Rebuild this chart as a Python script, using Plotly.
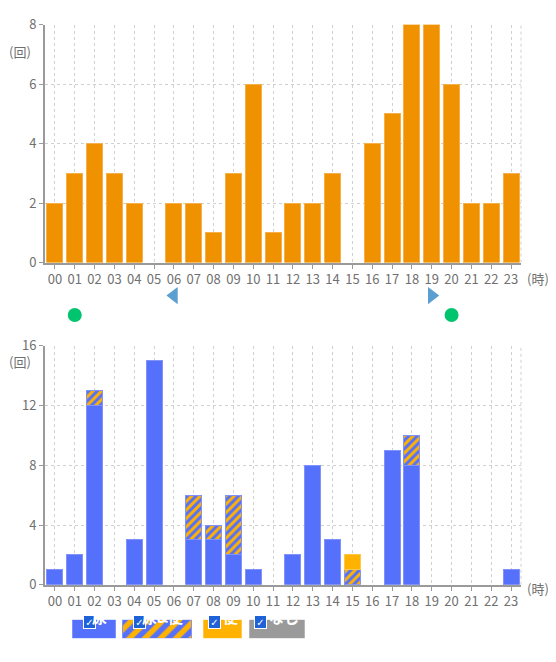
import plotly.graph_objs as go

# page body has an 8px margin, so the figure is drawn at (8, 8)
OX, OY = 8, 8
W, H = 540, 646

hours = ["00", "01", "02", "03", "04", "05", "06", "07", "08", "09", "10", "11",
         "12", "13", "14", "15", "16", "17", "18", "19", "20", "21", "22", "23"]

# top chart: counts per hour
counts_top = [2, 3, 4, 3, 2, 0, 2, 2, 1, 3, 6, 1, 2, 2, 3, 0, 4, 5, 8, 8, 6, 2, 2, 3]

# bottom chart: stacked by type
urine = [1, 2, 12, 0, 3, 15, 0, 3, 3, 2, 1, 0, 2, 8, 3, 0, 0, 9, 8, 0, 0, 0, 0, 1]
both = [0, 0, 1, 0, 0, 0, 0, 3, 1, 4, 0, 0, 0, 0, 0, 1, 0, 0, 2, 0, 0, 0, 0, 0]
stool = [0, 0, 0, 0, 0, 0, 0, 0, 0, 0, 0, 0, 0, 0, 0, 1, 0, 0, 0, 0, 0, 0, 0, 0]
none_ = [0] * 24

# markers under top chart
circle_hours = ["01", "20"]
tri_left_hours = ["06"]
tri_right_hours = ["19"]

legend_labels = ["尿", "尿&便", "便", "なし"]

ORANGE = "#F09100"
BLUE = "#5570FA"
YELLOW = "#FFB300"
GRAY = "#9A9A9A"
FONT = "Noto Sans CJK JP, Noto Sans, sans-serif"


def px_(x):
    return (x - OX) / W


def py(y):
    return 1 - (y - OY) / H


def edge(vals, color):
    # thin light outline, none on empty bars
    return dict(color=color, width=[1 if v else 0 for v in vals])


fig = go.Figure()

fig.add_trace(go.Bar(x=hours, y=counts_top, marker=dict(color=ORANGE, line=edge(counts_top, "#F6B04A")),
                     xaxis="x", yaxis="y", showlegend=False))

fig.add_trace(go.Bar(x=hours, y=urine, name="尿", marker=dict(color=BLUE, line=edge(urine, "#8193FB")),
                     xaxis="x2", yaxis="y2", showlegend=False))
fig.add_trace(go.Bar(x=hours, y=both, name="尿&便",
                     marker=dict(color=BLUE, line=edge(both, "#8193FB"),
                                 pattern=dict(shape="/", fgcolor=YELLOW, bgcolor=BLUE, size=6,
                                              solidity=0.5, fillmode="replace")),
                     xaxis="x2", yaxis="y2", showlegend=False))
fig.add_trace(go.Bar(x=hours, y=stool, name="便", marker=dict(color=YELLOW, line=edge(stool, "#FFC84D")),
                     xaxis="x2", yaxis="y2", showlegend=False))
fig.add_trace(go.Bar(x=hours, y=none_, name="なし", marker=dict(color=GRAY, line=edge(none_, "#B0B0B0")),
                     xaxis="x2", yaxis="y2", showlegend=False))

# markers row
fig.add_trace(go.Scatter(x=circle_hours, y=[0] * len(circle_hours), mode="markers",
                         marker=dict(symbol="circle", size=14, color="#00C46E"),
                         xaxis="x3", yaxis="y3", showlegend=False))
fig.add_trace(go.Scatter(x=tri_left_hours, y=[1] * len(tri_left_hours), mode="markers",
                         marker=dict(symbol="triangle-left", size=15, color="#5A9FD0"),
                         xaxis="x3", yaxis="y3", showlegend=False))
fig.add_trace(go.Scatter(x=tri_right_hours, y=[1] * len(tri_right_hours), mode="markers",
                         marker=dict(symbol="triangle-right", size=15, color="#5A9FD0"),
                         xaxis="x3", yaxis="y3", showlegend=False))

# custom legend boxes (page pixel positions)
box_left = [72, 122, 203, 249]
box_width = [43, 69, 38, 55]
box_colors = [BLUE, BLUE, YELLOW, GRAY]
box_edges = ["#8193FB", "#8193FB", "#FFC84D", "#B5B5B5"]
box_shapes = ["", "/", "", ""]
for i, lab in enumerate(legend_labels):
    fig.add_trace(go.Bar(y=[0.5], x=[box_width[i]], base=[box_left[i] - OX], orientation="h", width=1,
                         marker=dict(color=box_colors[i], line=dict(width=1, color=box_edges[i]),
                                     pattern=dict(shape=box_shapes[i], fgcolor=YELLOW, bgcolor=box_colors[i],
                                                  size=11, solidity=0.5, fillmode="replace")),
                         xaxis="x4", yaxis="y4", showlegend=False, hoverinfo="skip"))

x_dom = [px_(45), px_(521)]
xcommon = dict(type="category", categoryorder="array", categoryarray=hours, range=[-0.5, 23.5],
               showgrid=True, gridcolor="#D0D0D0", griddash="dot", gridwidth=1,
               showline=True, linecolor="#9A9A9A", linewidth=2,
               ticks="outside", ticklen=4, tickcolor="#9A9A9A",
               tickfont=dict(size=13, color="#707070"), domain=x_dom, fixedrange=True)
ycommon = dict(showgrid=True, gridcolor="#D0D0D0", griddash="dot", gridwidth=1,
               showline=True, linecolor="#9A9A9A", linewidth=2, zeroline=False,
               ticks="outside", ticklen=4, tickcolor="#9A9A9A",
               tickfont=dict(size=13, color="#707070"), fixedrange=True)

fig.update_layout(
    width=W, height=H, margin=dict(l=0, r=0, t=0, b=0),
    paper_bgcolor="white", plot_bgcolor="white",
    font=dict(family=FONT, color="#707070"),
    barmode="stack", bargap=0.2,
    xaxis=dict(xcommon, anchor="y"),
    yaxis=dict(ycommon, anchor="x", range=[0, 8], dtick=2, domain=[py(260), py(14.7)]),
    xaxis2=dict(xcommon, anchor="y2"),
    yaxis2=dict(ycommon, anchor="x2", range=[0, 16], dtick=4, domain=[py(592), py(345.7)]),
    xaxis3=dict(type="category", categoryorder="array", categoryarray=hours, range=[-0.5, 23.5],
                domain=x_dom, visible=False, anchor="y3", fixedrange=True),
    yaxis3=dict(range=[-0.5, 1.5], domain=[py(324), py(284)], visible=False, anchor="x3", fixedrange=True),
    xaxis4=dict(range=[0, W], domain=[0, 1], visible=False, anchor="y4", fixedrange=True),
    yaxis4=dict(range=[0, 1], domain=[py(647), py(628)], visible=False, anchor="x4", fixedrange=True),
)

# right edge dotted lines
for xa, ya in (("x", "y"), ("x2", "y2")):
    fig.add_shape(type="line", xref=xa + " domain", yref=ya + " domain", x0=1, x1=1, y0=0, y1=1,
                  line=dict(color="#D0D0D0", width=1, dash="dot"))

ann = []
for yy in (31, 362):
    ann.append(dict(text="(回)", x=px_(7), y=py(yy), xref="paper", yref="paper", xanchor="left",
                    showarrow=False, font=dict(size=13, color="#707070")))
for yy in (276, 607):
    ann.append(dict(text="(時)", x=px_(526), y=py(yy), xref="paper", yref="paper", xanchor="left",
                    showarrow=False, borderpad=0, font=dict(size=13, color="#707070")))
for i, lab in enumerate(legend_labels):
    ann.append(dict(text="<b>✓</b>", x=px_(box_left[i] + 11), y=py(637.5), xref="paper", yref="paper",
                    showarrow=False, width=11, height=12, bgcolor="#1F62D8", bordercolor="white", borderwidth=1,
                    borderpad=0, font=dict(size=10, color="white", family="DejaVu Sans")))
    ann.append(dict(text="<b>" + lab + "</b>", x=px_(box_left[i] + 18), y=py(637.5), xref="paper", yref="paper",
                    xanchor="left", showarrow=False, font=dict(size=15, color="white")))
fig.update_layout(annotations=ann)

fig.write_html("out.html")
